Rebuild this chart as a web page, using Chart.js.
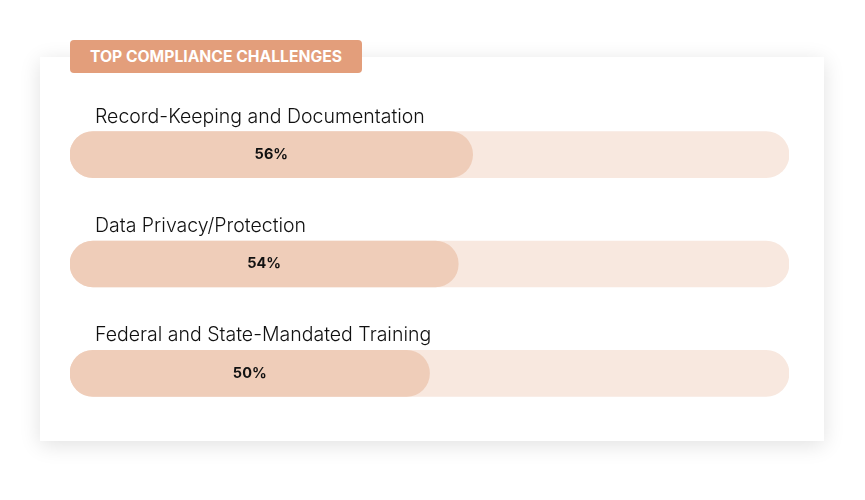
<!DOCTYPE html>
<html>
<head>
<meta charset="utf-8">
<script src="https://cdn.jsdelivr.net/npm/chart.js@4/dist/chart.umd.min.js"></script>
<style>
  html, body { margin: 0; padding: 0; background: #ffffff; }
  body { width: 865px; height: 500px; position: relative; overflow: hidden; font-family: Inter, "Open Sans", sans-serif; }
  #card { position: absolute; left: 40px; top: 57px; width: 784px; height: 384px; background: #fff; box-shadow: 0 4px 20px rgba(0,0,0,0.12); }
  #badge { position: absolute; left: 70px; top: 40px; width: 292px; height: 33px; background: #E39E7B; border-radius: 4px; color: #fff; font-weight: 700; font-size: 15.7px; line-height: 34px; text-align: center; z-index: 3; }
  #wrap { position: absolute; left: 0; top: 0; width: 865px; height: 500px; z-index: 2; }
</style>
</head>
<body>
<div id="card"></div>
<div id="badge">TOP COMPLIANCE CHALLENGES</div>
<div id="wrap"><canvas id="c" width="865" height="500"></canvas></div>
<script>
const categories = ["Record-Keeping and Documentation", "Data Privacy/Protection", "Federal and State-Mandated Training"];
const values = [56, 54, 50];
const trackValues = [100, 100, 100];

const labelPlugin = {
  id: 'labels',
  afterDatasetsDraw(chart) {
    const ctx = chart.ctx;
    const meta = chart.getDatasetMeta(0);
    ctx.save();
    meta.data.forEach((bar, i) => {
      const props = bar.getProps(['x', 'y', 'base', 'height'], true);
      ctx.font = '300 19.5px Inter, "Open Sans", sans-serif';
      ctx.fillStyle = '#111111';
      ctx.textAlign = 'left';
      ctx.textBaseline = 'middle';
      ctx.fillText(categories[i], props.base + 25, props.y - 38);
      ctx.font = '700 14.5px Inter, "Open Sans", sans-serif';
      ctx.textAlign = 'center';
      ctx.fillText(values[i] + '%', (props.x + props.base) / 2, props.y);
    });
    ctx.restore();
  }
};

new Chart(document.getElementById('c'), {
  type: 'bar',
  data: {
    labels: categories,
    datasets: [
      { data: values, backgroundColor: '#EFCDB9', borderRadius: 23, borderSkipped: false, barThickness: 46, grouped: false, order: 1 },
      { data: trackValues, backgroundColor: '#F8E8DF', borderRadius: 23, borderSkipped: false, barThickness: 46, grouped: false, order: 2 }
    ]
  },
  options: {
    indexAxis: 'y',
    responsive: false,
    animation: false,
    layout: { padding: { left: 70, right: 76, top: 100, bottom: 72 } },
    scales: {
      x: { display: false, min: 0, max: 100 },
      y: { display: false }
    },
    plugins: { legend: { display: false }, tooltip: { enabled: false } }
  },
  plugins: [labelPlugin]
});
</script>
</body>
</html>
